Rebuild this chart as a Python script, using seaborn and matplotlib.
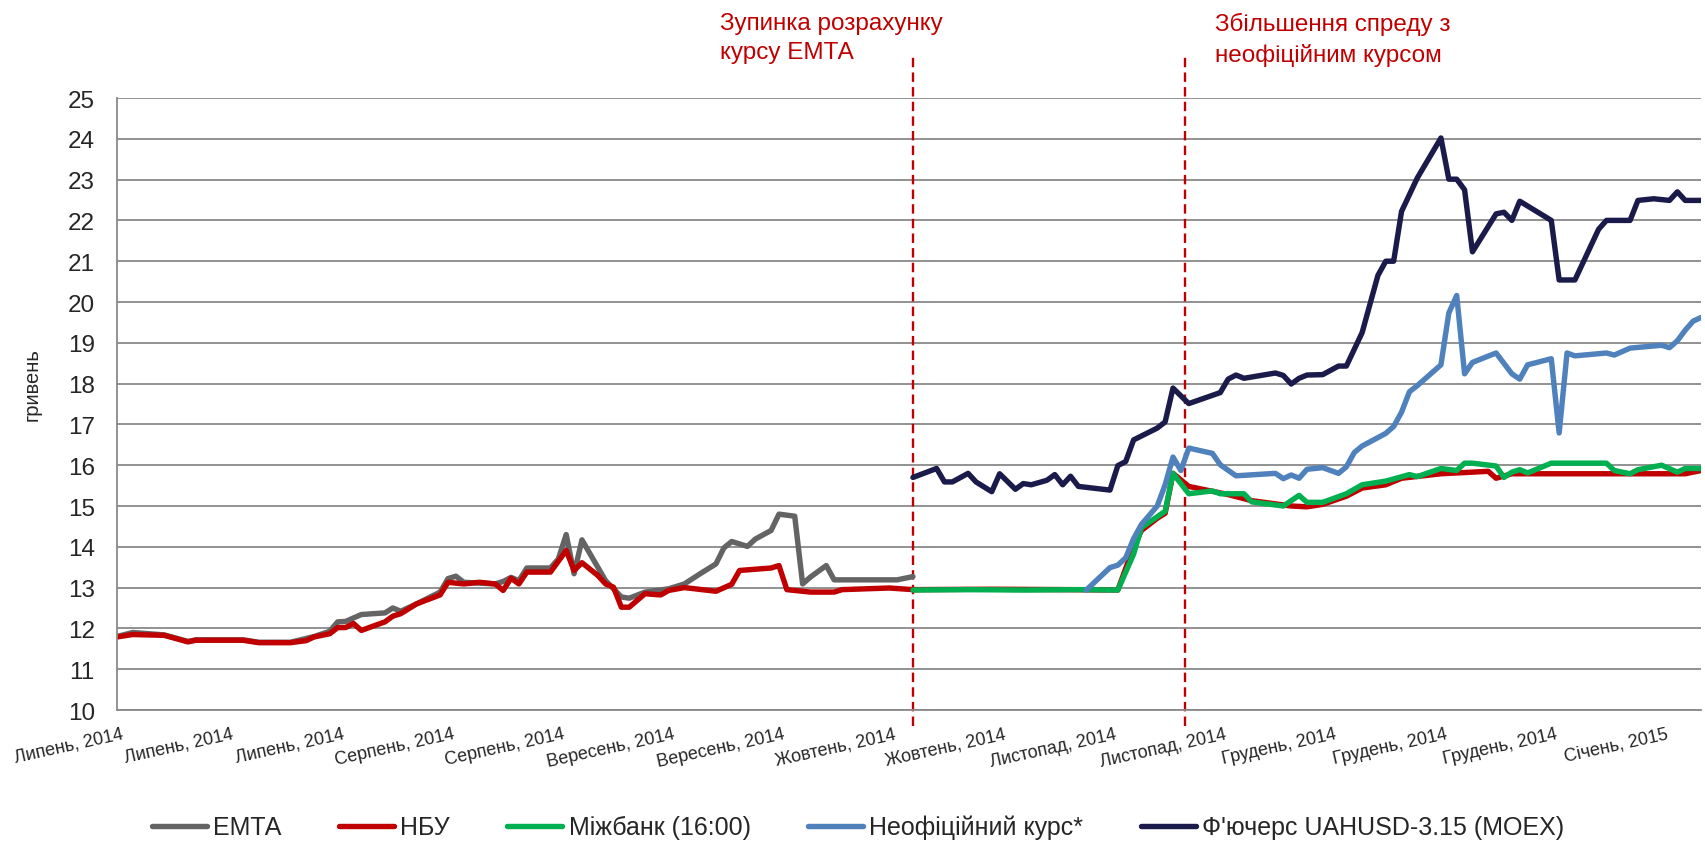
import pandas as pd
import seaborn as sns
import matplotlib.pyplot as plt
from matplotlib.transforms import ScaledTranslation

sns.set_theme(style="white")
plt.rcParams['font.family'] = ['Liberation Sans', 'DejaVu Sans']

# --- data (UAH per USD) ---
emta_dates = ['2014-07-01', '2014-07-03', '2014-07-07', '2014-07-10', '2014-07-11', '2014-07-17',
              '2014-07-19', '2014-07-23', '2014-07-26', '2014-07-28', '2014-07-29', '2014-07-30',
              '2014-08-01', '2014-08-04', '2014-08-05', '2014-08-06', '2014-08-08', '2014-08-11',
              '2014-08-12', '2014-08-13', '2014-08-14', '2014-08-18', '2014-08-19', '2014-08-20',
              '2014-08-21', '2014-08-22', '2014-08-25', '2014-08-26', '2014-08-27', '2014-08-28',
              '2014-08-29', '2014-09-01', '2014-09-03', '2014-09-04', '2014-09-06', '2014-09-09',
              '2014-09-11', '2014-09-13', '2014-09-15', '2014-09-16', '2014-09-17', '2014-09-19',
              '2014-09-20', '2014-09-22', '2014-09-23', '2014-09-25', '2014-09-26', '2014-09-27',
              '2014-09-29', '2014-09-30', '2014-10-08', '2014-10-10']
emta_vals = [11.80, 11.90, 11.84, 11.68, 11.72, 11.72,
             11.66, 11.66, 11.80, 11.93, 12.16, 12.17,
             12.34, 12.38, 12.50, 12.42, 12.60, 12.89,
             13.22, 13.28, 13.13, 13.09, 13.15, 13.25,
             13.17, 13.48, 13.48, 13.70, 14.30, 13.34,
             14.17, 13.17, 12.77, 12.74, 12.89, 12.97,
             13.09, 13.34, 13.58, 13.97, 14.13, 14.01,
             14.19, 14.40, 14.80, 14.75, 13.09, 13.26,
             13.54, 13.19, 13.19, 13.27]

nbu_dates = ['2014-07-01', '2014-07-03', '2014-07-07', '2014-07-10', '2014-07-11', '2014-07-17',
             '2014-07-19', '2014-07-23', '2014-07-25', '2014-07-26', '2014-07-28', '2014-07-29',
             '2014-07-30', '2014-07-31', '2014-08-01', '2014-08-04', '2014-08-05', '2014-08-06',
             '2014-08-08', '2014-08-11', '2014-08-12', '2014-08-14', '2014-08-16', '2014-08-18',
             '2014-08-19', '2014-08-20', '2014-08-21', '2014-08-22', '2014-08-25', '2014-08-27',
             '2014-08-28', '2014-08-29', '2014-08-31', '2014-09-01', '2014-09-02', '2014-09-03',
             '2014-09-04', '2014-09-06', '2014-09-08', '2014-09-09', '2014-09-11', '2014-09-15',
             '2014-09-17', '2014-09-18', '2014-09-22', '2014-09-23', '2014-09-24', '2014-09-27',
             '2014-09-30', '2014-10-01', '2014-10-07', '2014-10-10', '2014-10-20', '2014-10-30',
             '2014-11-05', '2014-11-07', '2014-11-08', '2014-11-10', '2014-11-11', '2014-11-12',
             '2014-11-14', '2014-11-19', '2014-11-22', '2014-11-27', '2014-11-29', '2014-12-01',
             '2014-12-04', '2014-12-06', '2014-12-09', '2014-12-11', '2014-12-16', '2014-12-22',
             '2014-12-23', '2014-12-25', '2015-01-13', '2015-01-16', '2015-01-18']
nbu_vals = [11.79, 11.85, 11.83, 11.67, 11.71, 11.71,
            11.65, 11.65, 11.70, 11.79, 11.87, 12.02,
            12.02, 12.12, 11.95, 12.16, 12.30, 12.36,
            12.60, 12.82, 13.13, 13.09, 13.13, 13.09,
            12.93, 13.23, 13.09, 13.38, 13.38, 13.91,
            13.42, 13.61, 13.30, 13.09, 13.01, 12.52,
            12.52, 12.85, 12.82, 12.93, 13.00, 12.91,
            13.08, 13.42, 13.48, 13.54, 12.95, 12.89,
            12.89, 12.95, 12.99, 12.95, 12.96, 12.95,
            12.94, 14.00, 14.40, 14.70, 14.82, 15.80,
            15.48, 15.28, 15.13, 15.00, 14.98, 15.04,
            15.24, 15.44, 15.52, 15.68, 15.79, 15.85,
            15.68, 15.79, 15.79, 15.79, 15.87]

ib_dates = ['2014-10-10', '2014-10-17', '2014-10-24', '2014-10-31', '2014-11-05', '2014-11-07',
            '2014-11-08', '2014-11-11', '2014-11-12', '2014-11-14', '2014-11-17', '2014-11-18',
            '2014-11-21', '2014-11-22', '2014-11-26', '2014-11-28', '2014-11-29', '2014-12-01',
            '2014-12-04', '2014-12-06', '2014-12-09', '2014-12-12', '2014-12-13', '2014-12-16',
            '2014-12-18', '2014-12-19', '2014-12-20', '2014-12-23', '2014-12-24', '2014-12-25',
            '2014-12-26', '2014-12-27', '2014-12-30', '2015-01-06', '2015-01-07', '2015-01-09',
            '2015-01-10', '2015-01-13', '2015-01-15', '2015-01-16', '2015-01-18']
ib_vals = [12.94, 12.95, 12.94, 12.95, 12.94, 13.82,
           14.47, 14.87, 15.80, 15.30, 15.37, 15.30,
           15.30, 15.10, 15.00, 15.26, 15.09, 15.09,
           15.30, 15.52, 15.61, 15.77, 15.72, 15.92,
           15.87, 16.05, 16.05, 15.98, 15.70, 15.83,
           15.89, 15.81, 16.05, 16.05, 15.87, 15.79,
           15.89, 16.00, 15.83, 15.92, 15.92]

black_dates = ['2014-11-01', '2014-11-04', '2014-11-05', '2014-11-06', '2014-11-07', '2014-11-08',
               '2014-11-10', '2014-11-11', '2014-11-12', '2014-11-13', '2014-11-14', '2014-11-17',
               '2014-11-18', '2014-11-20', '2014-11-25', '2014-11-26', '2014-11-27', '2014-11-28',
               '2014-11-29', '2014-12-01', '2014-12-03', '2014-12-04', '2014-12-05', '2014-12-06',
               '2014-12-09', '2014-12-10', '2014-12-11', '2014-12-12', '2014-12-13', '2014-12-16',
               '2014-12-17', '2014-12-18', '2014-12-19', '2014-12-20', '2014-12-23', '2014-12-25',
               '2014-12-26', '2014-12-27', '2014-12-30', '2014-12-31', '2015-01-01', '2015-01-02',
               '2015-01-06', '2015-01-07', '2015-01-09', '2015-01-13', '2015-01-14', '2015-01-15',
               '2015-01-16', '2015-01-17', '2015-01-18']
black_vals = [12.94, 13.49, 13.55, 13.73, 14.20, 14.55,
              15.00, 15.52, 16.20, 15.87, 16.42, 16.29,
              16.01, 15.74, 15.80, 15.67, 15.76, 15.68,
              15.90, 15.94, 15.80, 15.96, 16.31, 16.47,
              16.78, 16.95, 17.30, 17.80, 17.95, 18.46,
              19.73, 20.16, 18.24, 18.52, 18.75, 18.24,
              18.11, 18.46, 18.61, 16.79, 18.75, 18.68,
              18.75, 18.70, 18.87, 18.94, 18.88, 19.05,
              19.31, 19.53, 19.62]

fut_dates = ['2014-10-10', '2014-10-13', '2014-10-14', '2014-10-15', '2014-10-17', '2014-10-18',
             '2014-10-20', '2014-10-21', '2014-10-23', '2014-10-24', '2014-10-25', '2014-10-27',
             '2014-10-28', '2014-10-29', '2014-10-30', '2014-10-31', '2014-11-04', '2014-11-05',
             '2014-11-06', '2014-11-07', '2014-11-10', '2014-11-11', '2014-11-12', '2014-11-14',
             '2014-11-18', '2014-11-19', '2014-11-20', '2014-11-21', '2014-11-25', '2014-11-26',
             '2014-11-27', '2014-11-28', '2014-11-29', '2014-12-01', '2014-12-03', '2014-12-04',
             '2014-12-06', '2014-12-08', '2014-12-09', '2014-12-10', '2014-12-11', '2014-12-13',
             '2014-12-16', '2014-12-17', '2014-12-18', '2014-12-19', '2014-12-20', '2014-12-23',
             '2014-12-24', '2014-12-25', '2014-12-26', '2014-12-30', '2014-12-31', '2015-01-02',
             '2015-01-05', '2015-01-06', '2015-01-09', '2015-01-10', '2015-01-12', '2015-01-14',
             '2015-01-15', '2015-01-16', '2015-01-18']
fut_vals = [15.70, 15.92, 15.59, 15.59, 15.80, 15.59,
            15.35, 15.79, 15.41, 15.55, 15.52, 15.63,
            15.77, 15.52, 15.73, 15.48, 15.39, 15.99,
            16.09, 16.62, 16.91, 17.06, 17.89, 17.51,
            17.78, 18.11, 18.21, 18.13, 18.26, 18.20,
            17.99, 18.13, 18.21, 18.22, 18.43, 18.43,
            19.25, 20.65, 21.00, 21.00, 22.22, 23.04,
            24.02, 23.01, 23.01, 22.75, 21.23, 22.16,
            22.20, 22.00, 22.47, 22.00, 20.54, 20.54,
            21.78, 22.00, 22.00, 22.49, 22.53, 22.49,
            22.70, 22.49, 22.49]

tick_dates = ['2014-07-01', '2014-07-15', '2014-07-29', '2014-08-12', '2014-08-26',
              '2014-09-09', '2014-09-23', '2014-10-07', '2014-10-21', '2014-11-04',
              '2014-11-18', '2014-12-02', '2014-12-16', '2014-12-30', '2015-01-13']
tick_labels = ['Липень, 2014', 'Липень, 2014', 'Липень, 2014', 'Серпень, 2014', 'Серпень, 2014',
               'Вересень, 2014', 'Вересень, 2014', 'Жовтень, 2014', 'Жовтень, 2014', 'Листопад, 2014',
               'Листопад, 2014', 'Грудень, 2014', 'Грудень, 2014', 'Грудень, 2014', 'Січень, 2015']

event_dates = ['2014-10-10 00:00', '2014-11-13 12:00']
event_texts = ['Зупинка розрахунку\nкурсу ЕМТА', 'Збільшення спреду з\nнеофіційним курсом']

series = [
    ('ЕМТА', emta_dates, emta_vals, '#646464'),
    ('НБУ', nbu_dates, nbu_vals, '#C00000'),
    ('Міжбанк (16:00)', ib_dates, ib_vals, '#00B050'),
    ('Неофіційний курс*', black_dates, black_vals, '#4F81BD'),
    ("Ф'ючерс UAHUSD-3.15 (MOEX)", fut_dates, fut_vals, '#1B1B4B'),
]

W, H = 1705, 845
fig = plt.figure(figsize=(W / 100, H / 100), dpi=100)
ax = fig.add_axes([117 / W, 1 - 711 / H, (1701 - 117) / W, (711 - 99) / H])

for name, d, v, c in series:
    sns.lineplot(x=pd.to_datetime(d), y=v, ax=ax, color=c, linewidth=3.9,
                 label=name, estimator=None, sort=False)

ax.set_ylim(10, 25)
ax.set_yticks(range(10, 26))
ax.set_xlim(pd.Timestamp('2014-07-01'), pd.Timestamp('2015-01-18'))
ax.set_xlabel('')
ax.set_ylabel('')

grid_c = '#898989'
ax.yaxis.grid(True, color=grid_c, lw=1.3)
ax.xaxis.grid(False)
ax.set_axisbelow(True)
for s in ['top', 'right']:
    ax.spines[s].set_visible(False)
for s in ['left', 'bottom']:
    ax.spines[s].set_color(grid_c)
    ax.spines[s].set_linewidth(1.3)

ax.tick_params(axis='y', labelsize=17.5, pad=16, length=0)
ax.tick_params(axis='x', labelsize=13, pad=11, length=0)
ax.set_xticks(pd.to_datetime(tick_dates))
ax.set_xticklabels(tick_labels, rotation=12.5, ha='right', va='top', rotation_mode='anchor')
shift = ScaledTranslation(4 / 100, 0, fig.dpi_scale_trans)
for lbl in ax.get_xticklabels():
    lbl.set_transform(lbl.get_transform() + shift)

# event markers
ax.vlines(pd.to_datetime(event_dates), 9.6, 26.1, colors='#C00000',
          linestyles=(0, (4, 2.2)), lw=1.7, clip_on=False, zorder=1)
fig.text(720 / W, 1 - 13 / H, event_texts[0], color='#C00000', fontsize=17.5,
         ha='left', va='top', linespacing=1.42)
fig.text(1215 / W, 1 - 13 / H, event_texts[1], color='#C00000', fontsize=17.5,
         ha='left', va='top', linespacing=1.42)

fig.text(32 / W, 1 - 385 / H, 'гривень', rotation=90, fontsize=14.5, ha='center', va='center')

ax.legend(loc='center', bbox_to_anchor=(858 / W, 1 - 828 / H), bbox_transform=fig.transFigure,
          ncol=5, frameon=False, fontsize=18, handlelength=2.2, columnspacing=2.3,
          handletextpad=0.25)

fig.savefig('out.png', dpi=100)
